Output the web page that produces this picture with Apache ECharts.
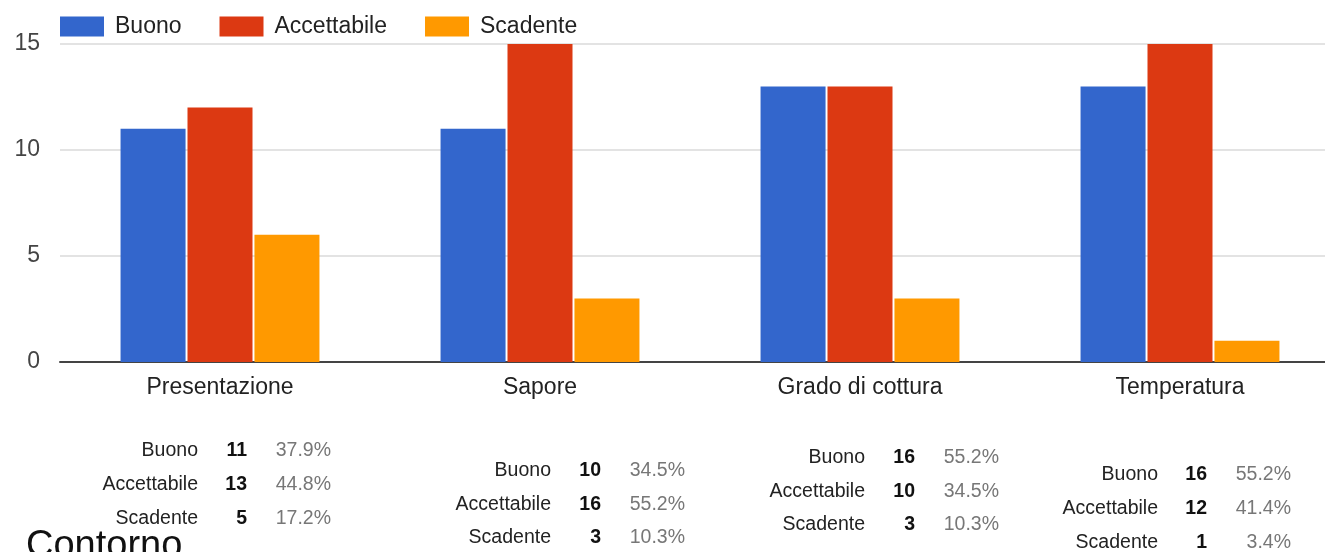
<!DOCTYPE html>
<html>
<head>
<meta charset="utf-8">
<script src="https://cdn.jsdelivr.net/npm/echarts@6/dist/echarts.min.js"></script>
<style>
html,body{margin:0;padding:0;background:#fff;overflow:hidden;}
#chart{width:1340px;height:552px;}
</style>
</head>
<body>
<div id="chart"></div>
<script>
const categories = ['Presentazione', 'Sapore', 'Grado di cottura', 'Temperatura'];
const seriesNames = ['Buono', 'Accettabile', 'Scadente'];
const buono = [11, 11, 13, 13];
const accettabile = [12, 15, 13, 15];
const scadente = [6, 3, 3, 1];
const yTicks = [0, 5, 10, 15];

// summary tables printed under each category
const tableLabels = ['Buono', 'Accettabile', 'Scadente'];
const tableCounts = [
  ['11', '13', '5'],
  ['10', '16', '3'],
  ['16', '10', '3'],
  ['16', '12', '1']
];
const tablePcts = [
  ['37.9%', '44.8%', '17.2%'],
  ['34.5%', '55.2%', '10.3%'],
  ['55.2%', '34.5%', '10.3%'],
  ['55.2%', '41.4%', '3.4%']
];
const sectionTitle = 'Contorno';

const FONT = '"Liberation Sans", Arial, sans-serif';
const colors = ['#3366cc', '#dc3912', '#ff9900'];

// layout of each table: right edges of columns and row centres
const tableLayout = [
  {lx: 198, nx: 247, px: 331, ys: [451, 485, 519]},
  {lx: 551, nx: 601, px: 685, ys: [471, 505, 538]},
  {lx: 865, nx: 915, px: 999, ys: [458, 492, 525]},
  {lx: 1158, nx: 1207, px: 1291, ys: [475, 509, 543]}
];

const graphics = [];
tableLayout.forEach((t, ci) => {
  tableLabels.forEach((lab, ri) => {
    graphics.push({type: 'text', x: t.lx, y: t.ys[ri],
      style: {text: lab, font: '19.5px ' + FONT, fill: '#222', textAlign: 'right', textVerticalAlign: 'middle'}});
    graphics.push({type: 'text', x: t.nx, y: t.ys[ri],
      style: {text: tableCounts[ci][ri], font: 'bold 19.5px ' + FONT, fill: '#111', textAlign: 'right', textVerticalAlign: 'middle'}});
    graphics.push({type: 'text', x: t.px, y: t.ys[ri],
      style: {text: tablePcts[ci][ri], font: '19.5px ' + FONT, fill: '#777', textAlign: 'right', textVerticalAlign: 'middle'}});
  });
});
graphics.push({type: 'text', x: 26, y: 528,
  style: {text: sectionTitle, font: '38px ' + FONT, fill: '#111', textVerticalAlign: 'top'}});

const chart = echarts.init(document.getElementById('chart'));
const seriesData = [buono, accettabile, scadente];
chart.setOption({
  animation: false,
  backgroundColor: '#fff',
  color: colors,
  legend: {
    data: seriesNames,
    left: 60, top: 15, padding: 0,
    itemWidth: 44, itemHeight: 20, itemGap: 38,
    icon: 'rect',
    textStyle: {fontFamily: FONT, fontSize: 23, color: '#222', padding: [0, 0, 0, 6]}
  },
  grid: {left: 60, right: 0, top: 44, height: 318, containLabel: false, outerBoundsMode: 'none'},
  xAxis: {
    type: 'category',
    data: categories,
    axisTick: {show: false},
    axisLine: {lineStyle: {color: '#444', width: 2}},
    axisLabel: {fontFamily: FONT, fontSize: 23, color: '#222', margin: 14}
  },
  yAxis: {
    type: 'value',
    min: yTicks[0], max: yTicks[yTicks.length - 1], interval: 5,
    axisLine: {show: false},
    axisTick: {show: false},
    axisLabel: {fontFamily: FONT, fontSize: 23, color: '#444', margin: 20, padding: [6, 0, 0, 0]},
    splitLine: {lineStyle: {color: '#e3e3e3', width: 2}}
  },
  series: seriesNames.map((n, i) => ({
    name: n, type: 'bar', data: seriesData[i],
    barWidth: 65, barGap: '3%'
  })),
  graphic: graphics
});
</script>
</body>
</html>
